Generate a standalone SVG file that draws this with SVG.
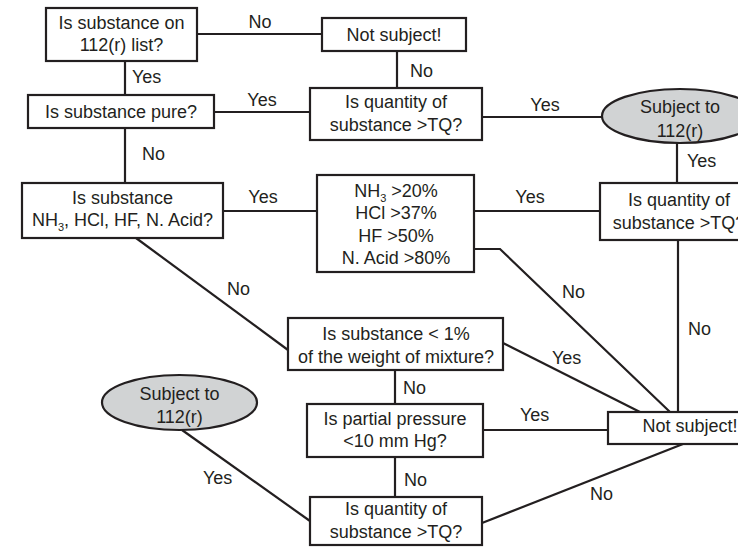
<svg xmlns="http://www.w3.org/2000/svg" width="738" height="549" viewBox="0 0 738 549">
<style>
.box{fill:#fff;stroke:#231f20;stroke-width:2.2}
.ell{fill:#d1d3d4;stroke:#231f20;stroke-width:2.2}
.ln{fill:none;stroke:#231f20;stroke-width:2.2}
text{font-family:"Liberation Sans",Arial,sans-serif;font-size:18px;fill:#231f20}
.c{text-anchor:middle}
.sub{font-size:11px}
</style>
<rect width="738" height="549" fill="#fff"/>
<g id="connectors">
<line class="ln" x1="197" y1="34" x2="322" y2="34"/>
<line class="ln" x1="125" y1="61" x2="125" y2="95"/>
<line class="ln" x1="397" y1="51" x2="397" y2="88"/>
<line class="ln" x1="214" y1="112" x2="310" y2="112"/>
<line class="ln" x1="482" y1="117" x2="602" y2="117"/>
<line class="ln" x1="125" y1="128" x2="125" y2="183"/>
<line class="ln" x1="677" y1="143" x2="677" y2="183"/>
<line class="ln" x1="223" y1="211" x2="317" y2="211"/>
<line class="ln" x1="474" y1="211" x2="600" y2="211"/>
<polyline class="ln" points="474,249 500,249 670,412"/>
<line class="ln" x1="678" y1="240" x2="678" y2="412"/>
<line class="ln" x1="136" y1="238" x2="288" y2="350"/>
<line class="ln" x1="503" y1="343" x2="640" y2="412"/>
<line class="ln" x1="395" y1="370" x2="395" y2="404"/>
<line class="ln" x1="483" y1="430" x2="608" y2="430"/>
<line class="ln" x1="395" y1="457" x2="395" y2="497"/>
<line class="ln" x1="482" y1="523" x2="683" y2="444"/>
<line class="ln" x1="182" y1="430" x2="310" y2="521"/>
<text x="260" y="28" class="c">No</text>
<text x="132" y="83">Yes</text>
<text x="410" y="77">No</text>
<text x="262" y="106" class="c">Yes</text>
<text x="545" y="111" class="c">Yes</text>
<text x="142" y="160">No</text>
<text x="687" y="167">Yes</text>
<text x="263" y="203" class="c">Yes</text>
<text x="530" y="203" class="c">Yes</text>
<text x="227" y="295">No</text>
<text x="562" y="298">No</text>
<text x="688" y="335">No</text>
<text x="552" y="364">Yes</text>
<text x="403" y="394">No</text>
<text x="520" y="421">Yes</text>
<text x="404" y="486">No</text>
<text x="590" y="500">No</text>
<text x="203" y="484">Yes</text>
</g>
<g id="n-list">
<rect class="box" x="46" y="8" width="151" height="53"/>
<text x="121.5" y="29" class="c">Is substance on</text>
<text x="121.5" y="51" class="c">112(r) list?</text>
</g>
<g id="n-notsubject-top">
<rect class="box" x="322" y="18" width="144" height="33"/>
<text x="394" y="41" class="c">Not subject!</text>
</g>
<g id="n-pure">
<rect class="box" x="28" y="95" width="186" height="33"/>
<text x="121" y="118" class="c">Is substance pure?</text>
</g>
<g id="n-tq-top">
<rect class="box" x="310" y="88" width="172" height="52"/>
<text x="396" y="108" class="c">Is quantity of</text>
<text x="396" y="131" class="c">substance &gt;TQ?</text>
</g>
<g id="n-subject-top">
<ellipse class="ell" cx="680" cy="116" rx="78" ry="27"/>
<text x="680" y="113" class="c">Subject to</text>
<text x="680" y="137" class="c">112(r)</text>
</g>
<g id="n-acid">
<rect class="box" x="22" y="183" width="201" height="55"/>
<text x="122.5" y="204" class="c">Is substance</text>
<text x="122.5" y="226" class="c">NH<tspan class="sub" dy="5">3</tspan><tspan dy="-5">, HCl, HF, N. Acid?</tspan></text>
</g>
<g id="n-percent">
<rect class="box" x="317" y="175" width="157" height="97"/>
<text x="396" y="197" class="c">NH<tspan class="sub" dy="5">3</tspan><tspan dy="-5"> &gt;20%</tspan></text>
<text x="396" y="219" class="c">HCl &gt;37%</text>
<text x="396" y="242" class="c">HF &gt;50%</text>
<text x="396" y="264" class="c">N. Acid &gt;80%</text>
</g>
<g id="n-tq-right">
<rect class="box" x="600" y="183" width="160" height="57"/>
<text x="679" y="206" class="c">Is quantity of</text>
<text x="679" y="229" class="c">substance &gt;TQ?</text>
</g>
<g id="n-weight">
<rect class="box" x="288" y="318" width="215" height="52"/>
<text x="396" y="340" class="c">Is substance &lt; 1%</text>
<text x="396" y="363" class="c">of the weight of mixture?</text>
</g>
<g id="n-subject-left">
<ellipse class="ell" cx="179.5" cy="402.5" rx="77.5" ry="27.5"/>
<text x="179.5" y="400" class="c">Subject to</text>
<text x="179.5" y="423" class="c">112(r)</text>
</g>
<g id="n-pressure">
<rect class="box" x="307" y="404" width="176" height="53"/>
<text x="395" y="425" class="c">Is partial pressure</text>
<text x="395" y="447" class="c">&lt;10 mm Hg?</text>
</g>
<g id="n-tq-bottom">
<rect class="box" x="310" y="497" width="172" height="48"/>
<text x="396" y="515" class="c">Is quantity of</text>
<text x="396" y="538" class="c">substance &gt;TQ?</text>
</g>
<g id="n-notsubject-bottom">
<rect class="box" x="608" y="412" width="165" height="32"/>
<text x="690" y="432" class="c">Not subject!</text>
</g>
</svg>
